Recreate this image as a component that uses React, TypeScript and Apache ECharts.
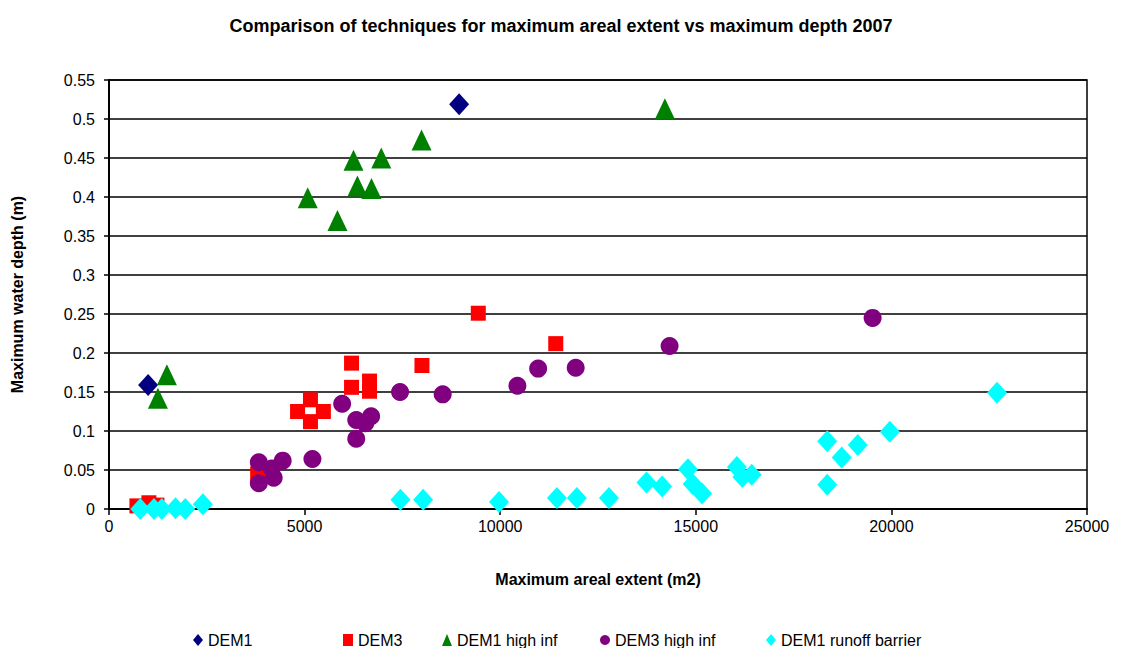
import React, { useEffect, useRef } from "react";
import * as echarts from "echarts";

const seriesNames = ["DEM1", "DEM3", "DEM1 high inf", "DEM3 high inf", "DEM1 runoff barrier"];

const dem1: [number, number][] = [
  [1000, 0.159], [8950, 0.519],
];
const dem3: [number, number][] = [
  [714, 0.004], [1020, 0.008], [1224, 0.005], [3800, 0.045], [4820, 0.125], [5150, 0.14],
  [5150, 0.112], [5480, 0.125], [6200, 0.187], [6200, 0.156], [6660, 0.164], [6660, 0.151],
  [8000, 0.184], [9440, 0.251], [11420, 0.212],
];
const dem1High: [number, number][] = [
  [1250, 0.142], [1480, 0.172], [5080, 0.399], [5840, 0.37], [6250, 0.447], [6350, 0.414],
  [6710, 0.411], [6960, 0.45], [7990, 0.473], [14210, 0.513],
];
const dem3High: [number, number][] = [
  [3830, 0.06], [3830, 0.033], [4160, 0.052], [4210, 0.04], [4440, 0.062], [5200, 0.064],
  [5960, 0.135], [6320, 0.114], [6320, 0.09], [6550, 0.11], [6700, 0.119], [7440, 0.15],
  [8530, 0.147], [10440, 0.158], [10970, 0.18], [11930, 0.181], [14330, 0.209], [19520, 0.245],
];
const runoffBarrier: [number, number][] = [
  [800, 0], [1150, 0], [1350, 0], [1700, 0.001], [1950, 0], [2400, 0.006], [7450, 0.012],
  [8030, 0.012], [9970, 0.009], [11450, 0.014], [11960, 0.014], [12780, 0.014], [13740, 0.034],
  [14140, 0.029], [14800, 0.051], [14920, 0.032], [15160, 0.02], [16050, 0.054], [16190, 0.041],
  [16430, 0.044], [18360, 0.087], [18360, 0.031], [18730, 0.066], [19140, 0.082], [19960, 0.099],
  [22700, 0.149],
];

const FONT = "'Liberation Sans', Arial, sans-serif";

export default function App() {
  const ref = useRef<HTMLDivElement>(null);
  useEffect(() => {
    if (!ref.current) return;
    const chart = echarts.init(ref.current, undefined, { renderer: "svg" });
    const colors = ["#000080", "#FF0000", "#008000", "#800080", "#00FFFF"];
    const symbols = ["diamond", "rect", "triangle", "circle", "diamond"];
    const sizes: any[] = [[20, 22], 15, [20, 21], 18, [20, 22]];
    const datasets = [dem1, dem3, dem1High, dem3High, runoffBarrier];
    const legendLefts = [188, 338, 437, 595, 761];
    chart.setOption({
      animation: false,
      backgroundColor: "#ffffff",
      textStyle: { fontFamily: FONT },
      title: {
        text: "Comparison of techniques for maximum areal extent vs maximum depth 2007",
        left: "center",
        top: 12,
        textStyle: { fontSize: 18, fontWeight: "bold", color: "#000", fontFamily: FONT },
      },
      legend: seriesNames.map((n, i) => ({
        data: [n],
        left: legendLefts[i],
        top: 627,
        itemWidth: 10,
        itemHeight: 12,
        itemGap: 6,
        textStyle: { fontSize: 16, color: "#000", fontFamily: FONT },
        icon: symbols[i],
      })),
      grid: {
        left: 109, right: 35, top: 80, bottom: 139,
        show: true, borderColor: "#000", borderWidth: 1.5, backgroundColor: "#fff",
      },
      xAxis: {
        type: "value",
        min: 0, max: 25000, interval: 5000,
        name: "Maximum areal extent (m2)",
        nameLocation: "middle",
        nameGap: 62,
        nameTextStyle: { fontSize: 16, fontWeight: "bold", color: "#000", fontFamily: FONT },
        axisLine: { show: true, onZero: false, lineStyle: { color: "#000", width: 2 } },
        axisTick: { show: true, length: 6, lineStyle: { color: "#000", width: 1.5 } },
        axisLabel: {
          fontSize: 16, color: "#000", margin: 9, fontFamily: FONT,
          formatter: (v: number) => String(Math.round(v)),
        },
        splitLine: { show: false },
      },
      yAxis: {
        type: "value",
        min: 0, max: 0.55, interval: 0.05,
        name: "Maximum water depth (m)",
        nameLocation: "middle",
        nameGap: 84,
        nameTextStyle: { fontSize: 16, fontWeight: "bold", color: "#000", fontFamily: FONT },
        axisLine: { show: true, onZero: false, lineStyle: { color: "#000", width: 2 } },
        axisTick: { show: true, length: 5, lineStyle: { color: "#000", width: 1.5 } },
        axisLabel: {
          fontSize: 16, color: "#000", margin: 14, fontFamily: FONT,
          formatter: (v: number) => String(+v.toFixed(2)),
        },
        splitLine: { show: true, lineStyle: { color: "#000", width: 1.5 } },
      },
      series: seriesNames.map((n, i) => ({
        name: n,
        type: "scatter",
        data: datasets[i],
        symbol: symbols[i],
        symbolSize: sizes[i],
        itemStyle: { color: colors[i], opacity: 1 },
        emphasis: { disabled: true },
      })),
    });
    return () => chart.dispose();
  }, []);
  return (
    <div
      ref={ref}
      style={{ position: "fixed", left: 0, top: 0, width: 1122, height: 648, background: "#fff" }}
    />
  );
}
